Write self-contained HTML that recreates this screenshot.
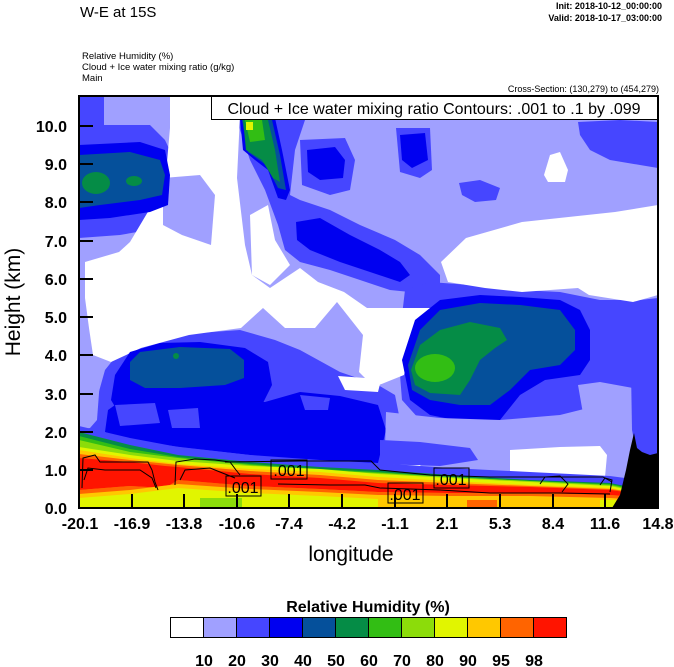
<!DOCTYPE html>
<html><head><meta charset="utf-8"><style>
html,body{margin:0;padding:0;background:#fff;}
svg{display:block;font-family:"Liberation Sans",Arial,sans-serif;}
</style></head><body>
<svg width="674" height="667" viewBox="0 0 674 667" xmlns="http://www.w3.org/2000/svg">
<defs><clipPath id="c"><rect x="79" y="96" width="579" height="412"/></clipPath></defs>
<text x="80" y="17" font-size="15">W-E at 15S</text>
<text x="662" y="9" font-size="9" font-weight="bold" text-anchor="end">Init: 2018-10-12_00:00:00</text>
<text x="662" y="21" font-size="9" font-weight="bold" text-anchor="end">Valid: 2018-10-17_03:00:00</text>
<text x="82" y="59" font-size="9.5">Relative Humidity   (%)</text>
<text x="82" y="70" font-size="9.5">Cloud + Ice water mixing ratio   (g/kg)</text>
<text x="82" y="81" font-size="9.5">Main</text>
<text x="659" y="92" font-size="9" text-anchor="end">Cross-Section: (130,279) to (454,279)</text>
<g clip-path="url(#c)">
<rect x="79" y="96" width="579" height="412" fill="#a0a0ff"/>
<g fill="#4646ff">
<polygon points="79,95 104,95 104,125 150,125 165,140 172,155 172,215 160,228 120,235 79,238"/>
<polygon points="232,95 300,95 305,120 295,150 290,195 300,200 330,210 360,225 395,240 420,255 440,275 440,290 420,293 390,290 360,280 330,270 300,262 285,250 278,225 265,190 250,160 240,130"/>
<polygon points="300,140 345,138 355,160 350,190 330,195 302,185"/>
<polygon points="396,128 430,128 432,170 420,178 400,172"/>
<polygon points="459,183 480,180 500,188 496,200 475,202 462,195"/>
<polygon points="578,122 620,120 658,122 658,168 640,165 610,160 590,150 580,135"/>
<polygon points="405,290 430,282 470,285 520,290 560,292 600,300 640,300 658,298 658,430 630,425 600,425 500,425 420,420 402,400 398,350"/>
<polygon points="79,432 92,425 98,395 105,370 125,345 170,335 240,330 275,340 300,350 340,372 378,385 395,395 400,420 390,470 79,470"/>
</g>
<g fill="#fff">
<polygon points="170,95 241,95 237,178 245,245 252,275 270,288 300,268 318,282 344,292 367,308 430,308 435,318 411,348 404,375 374,387 359,372 363,335 337,302 315,328 285,328 263,308 241,328 189,335 141,348 111,362 93,355 89,328 85,298 85,262 119,252 130,242 152,205 167,162 170,128"/>
<polygon points="250,215 268,205 275,240 290,265 270,285 252,275"/>
<polygon points="441,262 466,238 522,222 615,212 658,205 658,295 633,302 589,295 578,288 522,292 485,288 448,282"/>
<polygon points="550,155 560,152 568,170 565,182 548,182 544,175"/>
<polygon points="79,378 92,380 94,412 79,415"/>
<polygon points="338,376 365,378 380,384 378,392 345,390"/>
</g>
<polygon fill="#a0a0ff" points="163,178 200,175 215,195 211,245 182,235 163,225"/>
<polygon fill="#a0a0ff" points="79,355 93,356 100,380 97,420 90,428 79,430"/>
<g fill="#0000f0">
<polygon points="79,145 140,142 165,150 170,175 168,205 150,212 110,218 79,220"/>
<polygon points="296,222 320,218 350,235 380,250 400,262 410,275 400,282 370,272 340,262 310,250 297,240"/>
<polygon points="307,150 335,147 345,160 343,178 320,180 308,172"/>
<polygon points="400,135 425,133 428,160 412,168 402,160"/>
<polygon points="402,360 415,320 440,300 480,295 520,297 560,300 580,310 590,330 590,360 580,375 545,380 520,395 500,420 470,423 430,415 410,400"/>
<polygon points="240,118 275,118 282,150 290,190 286,200 278,198 268,170 255,160 243,150"/>
<polygon points="111,400 115,375 130,352 160,343 200,342 245,348 268,362 272,385 262,405 245,420 200,425 150,424 120,415"/>
<polygon points="105,432 108,410 125,398 200,400 265,402 300,392 340,396 378,405 386,430 378,463 300,460 250,455 180,447 130,440"/>
</g>
<g fill="#4646ff">
<polygon points="115,405 155,403 160,423 120,426"/>
<polygon points="168,410 198,408 200,428 172,428"/>
<polygon points="300,395 330,398 328,410 305,410"/>
</g>
<g fill="#05509b">
<polygon points="79,155 130,152 160,160 165,175 162,195 140,200 100,205 79,208"/>
<polygon points="408,365 420,330 440,310 480,303 520,305 560,310 575,330 575,350 560,365 530,370 510,390 490,405 460,405 430,400 412,390"/>
<polygon points="130,362 140,352 180,347 230,349 244,360 244,378 225,385 180,388 145,388 130,380"/>
<polygon points="242,120 272,120 280,155 286,190 278,188 266,165 248,152"/>
</g>
<g fill="#058c46">
<ellipse cx="96" cy="183" rx="14" ry="11"/>
<ellipse cx="134" cy="181" rx="8" ry="5"/>
<polygon points="411,370 420,345 440,330 470,322 500,328 507,340 495,348 480,360 470,380 460,395 430,393 415,385"/>
<polygon points="243,120 268,120 275,150 280,182 273,178 262,160 246,150"/>
<ellipse cx="176" cy="356" rx="3" ry="3"/>
</g>
<ellipse cx="435" cy="368" rx="20" ry="14" fill="#32be14"/>
<polygon fill="#32be14" points="245,120 262,120 265,140 250,142"/>
<polygon fill="#e1f500" points="246,122 253,122 253,130 246,130"/>
<polygon fill="#a0a0ff" points="386,412 440,418 500,420 560,415 600,405 640,395 640,482 384,482"/>
<polygon fill="#a0a0ff" points="578,385 600,382 633,388 633,425 585,425"/>
<polygon fill="#4646ff" points="380,440 420,442 470,448 478,460 440,466 380,464"/>
<polygon fill="#4646ff" points="630,312 658,310 658,470 640,470 632,430"/>
<polygon fill="#fff" points="510,450 560,447 600,446 607,455 605,477 510,477"/>
<polygon fill="#fff" points="390,466 420,465 425,471 390,472"/>
<polygon fill="#4646ff" points="79,426 130,438 178,447 250,455 320,460 378,463 450,468 530,472 610,476 625,478 625,508 79,508"/>
<polygon fill="#058c46" points="79,432 130,445 178,455 250,462 320,467 378,470 450,475 530,480 610,483 625,486 625,508 79,508"/>
<polygon fill="#32be14" points="79,436 130,449 178,457 250,464 320,469 378,472 450,477 530,481 610,484 625,487 625,508 79,508"/>
<polygon fill="#8cdc0a" points="79,440 130,452 178,458 250,465 320,470 378,473 450,477 530,481 610,485 625,488 625,508 79,508"/>
<polygon fill="#e1f500" points="79,447 130,455 178,461 250,466 320,469 378,474 450,478 530,482 610,486 625,489 625,508 79,508"/>
<polygon fill="#ffc800" points="79,450 130,458 178,464 250,469 320,472 378,477 450,481 530,485 610,488 625,491 625,508 79,508"/>
<polygon fill="#ff6400" points="79,454 130,460 178,465 250,471 320,475 378,480 450,483 530,486 610,489 625,491 625,508 79,508"/>
<polygon fill="#ff1400" points="79,458 130,462 165,466 178,467 250,474 320,478 378,483 450,485 530,487 610,490 625,492 625,496 610,495 530,493 450,493 378,492 320,489 250,486 178,480 165,488 130,486 79,490"/>
<polygon fill="#ff6400" points="79,490 130,486 165,488 178,480 250,486 320,489 378,492 450,493 530,493 610,495 625,496 625,499 610,498 530,496 450,496 378,495 320,492 250,489 178,484 130,490 79,494"/>
<polygon fill="#ffc800" points="79,494 130,490 178,484 250,489 320,492 378,495 450,496 530,496 610,498 625,499 625,508 79,508"/>
<polygon fill="#e1f500" points="79,498 130,494 178,488 250,493 320,496 378,499 378,508 79,508"/>
<rect x="200" y="498" width="42" height="10" fill="#8cdc0a"/>
<rect x="467" y="500" width="30" height="8" fill="#ff6400"/>
<rect x="600" y="500" width="16" height="8" fill="#e1f500"/>
<polygon fill="#000" points="612,508 620,495 626,470 630,450 634,433 637,448 642,452 650,455 658,453 658,508"/>
<g fill="none" stroke="#000" stroke-width="1">
<polyline points="82,488 83,458 95,455 100,462 148,462 152,470 155,482 158,490"/>
<polyline points="84,480 88,468 105,470 140,470 152,478 156,488"/>
<polyline points="175,485 176,462 195,459 215,460 230,462 236,470 240,475"/>
<polyline points="180,480 185,470 210,468 235,478"/>
<polyline points="225,462 300,461 371,461 380,470 430,475 490,477 560,477 603,477 612,482"/>
<polyline points="278,484 330,485 365,485 380,488 440,490 490,493 560,493 610,494"/>
<polyline points="540,484 545,477 560,476 568,484 562,492"/>
<polyline points="600,485 605,478 612,480 610,492"/>
</g>
<g font-size="16" text-anchor="middle">
<rect x="226" y="476" width="35" height="20" fill="none" stroke="#000"/><text x="243" y="493">.001</text>
<rect x="271" y="460" width="36" height="19" fill="none" stroke="#000"/><text x="289" y="476">.001</text>
<rect x="388" y="483" width="35" height="20" fill="none" stroke="#000"/><text x="405" y="500">.001</text>
<rect x="434" y="468" width="35" height="20" fill="none" stroke="#000"/><text x="451" y="485">.001</text>
</g>
</g>
<rect x="211.5" y="96.5" width="446" height="23" fill="#fff" stroke="#000"/>
<text x="434" y="114" font-size="16" text-anchor="middle">Cloud + Ice water mixing ratio Contours: .001 to .1 by .099</text>
<rect x="79" y="96" width="579" height="412" fill="none" stroke="#000" stroke-width="2"/>
<g stroke="#000" stroke-width="2">
<line x1="79" y1="470" x2="93" y2="470"/><line x1="79" y1="432" x2="93" y2="432"/><line x1="79" y1="394" x2="93" y2="394"/><line x1="79" y1="355" x2="93" y2="355"/><line x1="79" y1="317" x2="93" y2="317"/><line x1="79" y1="279" x2="93" y2="279"/><line x1="79" y1="241" x2="93" y2="241"/><line x1="79" y1="202" x2="93" y2="202"/><line x1="79" y1="164" x2="93" y2="164"/><line x1="79" y1="126" x2="93" y2="126"/>
<line x1="132" y1="508" x2="132" y2="494"/><line x1="184" y1="508" x2="184" y2="494"/><line x1="237" y1="508" x2="237" y2="494"/><line x1="289" y1="508" x2="289" y2="494"/><line x1="342" y1="508" x2="342" y2="494"/><line x1="395" y1="508" x2="395" y2="494"/><line x1="447" y1="508" x2="447" y2="494"/><line x1="500" y1="508" x2="500" y2="494"/><line x1="553" y1="508" x2="553" y2="494"/><line x1="605" y1="508" x2="605" y2="494"/>
</g>
<g font-size="16" font-weight="bold" text-anchor="end">
<text x="67" y="514">0.0</text><text x="67" y="476">1.0</text><text x="67" y="438">2.0</text><text x="67" y="400">3.0</text><text x="67" y="361">4.0</text><text x="67" y="323">5.0</text><text x="67" y="285">6.0</text><text x="67" y="247">7.0</text><text x="67" y="208">8.0</text><text x="67" y="170">9.0</text><text x="67" y="132">10.0</text>
</g>
<g font-size="16" font-weight="bold" text-anchor="middle">
<text x="80" y="529">-20.1</text><text x="132" y="529">-16.9</text><text x="184" y="529">-13.8</text><text x="237" y="529">-10.6</text><text x="289" y="529">-7.4</text><text x="342" y="529">-4.2</text><text x="395" y="529">-1.1</text><text x="447" y="529">2.1</text><text x="500" y="529">5.3</text><text x="553" y="529">8.4</text><text x="605" y="529">11.6</text><text x="658" y="529">14.8</text>
</g>
<text x="351" y="561" font-size="21" text-anchor="middle">longitude</text>
<text transform="translate(20,302) rotate(-90)" font-size="21" text-anchor="middle">Height (km)</text>
<text x="368" y="612" font-size="16" font-weight="bold" text-anchor="middle">Relative Humidity  (%)</text>
<g stroke="#000" stroke-width="1">
<rect x="170.5" y="617.5" width="33" height="20" fill="#ffffff"/>
<rect x="203.5" y="617.5" width="33" height="20" fill="#a0a0ff"/>
<rect x="236.5" y="617.5" width="33" height="20" fill="#4646ff"/>
<rect x="269.5" y="617.5" width="33" height="20" fill="#0000f0"/>
<rect x="302.5" y="617.5" width="33" height="20" fill="#05509b"/>
<rect x="335.5" y="617.5" width="33" height="20" fill="#058c46"/>
<rect x="368.5" y="617.5" width="33" height="20" fill="#32be14"/>
<rect x="401.5" y="617.5" width="33" height="20" fill="#8cdc0a"/>
<rect x="434.5" y="617.5" width="33" height="20" fill="#e1f500"/>
<rect x="467.5" y="617.5" width="33" height="20" fill="#ffc800"/>
<rect x="500.5" y="617.5" width="33" height="20" fill="#ff6400"/>
<rect x="533.5" y="617.5" width="33" height="20" fill="#ff1400"/>
</g>
<g font-size="16" font-weight="bold" text-anchor="middle">
<text x="204" y="666">10</text><text x="237" y="666">20</text><text x="270" y="666">30</text><text x="303" y="666">40</text><text x="336" y="666">50</text><text x="369" y="666">60</text><text x="402" y="666">70</text><text x="435" y="666">80</text><text x="468" y="666">90</text><text x="501" y="666">95</text><text x="534" y="666">98</text>
</g>
</svg>
</body></html>
